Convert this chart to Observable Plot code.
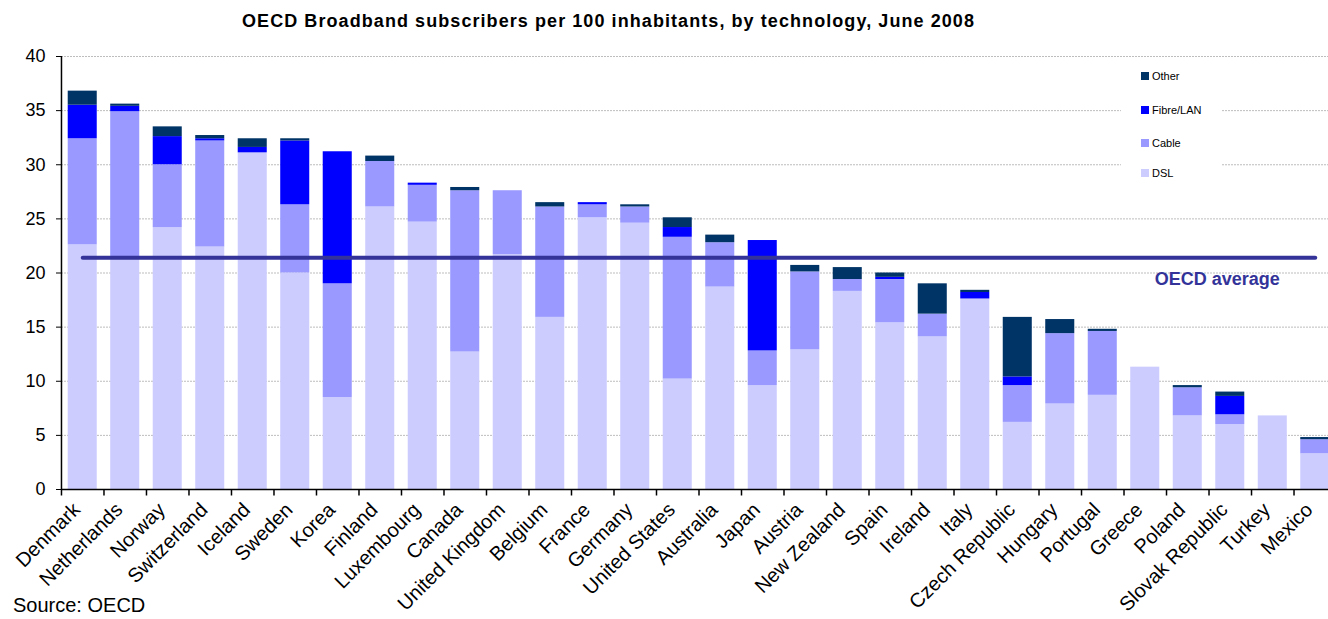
<!DOCTYPE html>
<html><head><meta charset="utf-8">
<script src="https://cdn.jsdelivr.net/npm/d3@7"></script>
<script src="https://cdn.jsdelivr.net/npm/@observablehq/plot@0.6"></script>
<style>
body{margin:0;background:#fff;font-family:Arial,"Liberation Sans",sans-serif;}
#wrap{position:relative;width:1328px;height:619px;overflow:hidden;background:#fff}
#chart{position:absolute;left:0;top:0}
#title{position:absolute;left:242px;top:11px;font-weight:bold;font-size:18px;white-space:nowrap;color:#000}
#source{position:absolute;left:13px;top:594px;font-size:20px;color:#000;white-space:nowrap}
#legend{position:absolute;left:1121px;top:60px;width:100px;height:130px;background:#fff;font-size:11px;color:#000}
.item{position:absolute;left:20px;height:8px;display:flex;align-items:center;white-space:nowrap}
.sw{width:8px;height:8px;margin-right:3px;flex:none}
</style></head><body>
<div id="wrap">
  <div id="chart"></div>
  <div id="title">OECD Broadband subscribers per 100 inhabitants, by technology, June 2008</div>
  <div id="legend"></div>
  <div id="source">Source: OECD</div>
</div>
<script>
const countries = ["Denmark","Netherlands","Norway","Switzerland","Iceland","Sweden","Korea","Finland","Luxembourg","Canada","United Kingdom","Belgium","France","Germany","United States","Australia","Japan","Austria","New Zealand","Spain","Ireland","Italy","Czech Republic","Hungary","Portugal","Greece","Poland","Slovak Republic","Turkey","Mexico"];
const dsl   = [22.6,21.5,24.2,22.4,31.1,20.0,8.5,26.1,24.7,12.7,21.7,15.9,25.1,24.6,10.2,18.7,9.6,12.9,18.3,15.4,14.1,17.6,6.2,7.9,8.7,11.3,6.8,6.0,6.8,3.3];
const cable = [9.8,13.4,5.8,9.8,0,6.3,10.5,4.2,3.4,14.9,5.9,10.2,1.2,1.5,13.1,4.1,3.2,7.2,1.1,4.0,2.1,0,3.4,6.5,5.9,0,2.6,0.9,0,1.3];
const fibre = [3.1,0.5,2.6,0.2,0.5,5.9,12.2,0,0.2,0,0,0,0.2,0,0.9,0,10.2,0,0,0.2,0,0.6,0.8,0,0,0,0,1.7,0,0];
const other = [1.3,0.2,0.9,0.3,0.8,0.2,0,0.5,0,0.3,0,0.4,0,0.2,0.9,0.7,0,0.6,1.1,0.4,2.8,0.2,5.5,1.3,0.2,0,0.2,0.4,0,0.2];
const techs = ["DSL","Cable","Fibre/LAN","Other"];
const techColors = ["#ccccff","#9999ff","#0000ff","#003366"];
const oecdAverage = 21.4;
const averageLabel = "OECD average";
const yTicks = [0,5,10,15,20,25,30,35,40];

const series = [dsl, cable, fibre, other];
const rows = [];
countries.forEach((c, i) => techs.forEach((t, k) => rows.push({country: c, tech: t, value: series[k][i]})));
const avgRows = [{country: countries[0], value: oecdAverage}, {country: countries[countries.length-1], value: oecdAverage}];

const W = 1328, H = 619, ML = 61, MR = -8, MT = 56, MB = 130;
const step = (W - ML - MR) / countries.length;
const font = "Arial, 'Liberation Sans', sans-serif";

const chart = Plot.plot({
  width: W, height: H,
  marginLeft: ML, marginRight: MR, marginTop: MT, marginBottom: MB,
  style: {fontFamily: font, background: "#fff", color: "#000", overflow: "visible"},
  x: {domain: countries, paddingInner: 0.317, paddingOuter: 0.158, round: false, axis: null},
  y: {domain: [0, 40], axis: null},
  color: {domain: techs, range: techColors},
  marks: [
    Plot.gridY(yTicks.filter(d => d > 0), {stroke: "#bdbdbd", strokeOpacity: 1, strokeDasharray: "2,1"}),
    Plot.barY(rows, {x: "country", y: "value", fill: "tech", order: techs}),
    Plot.line(avgRows, {x: "country", y: "value", stroke: "#333399", strokeWidth: 4}),
    Plot.text([averageLabel], {x: () => "Slovak Republic", y: () => oecdAverage, text: d => d, dy: 21, dx: -13, fontSize: 18, fontWeight: "bold", fill: "#333399", letterSpacing: "1.2px"}),
    Plot.ruleY([0], {stroke: "#000", strokeWidth: 1.5}),
    Plot.ruleX([countries[0]], {x: d => d, dx: -step/2, y1: 0, y2: 40, stroke: "#000", strokeWidth: 1.5}),
    Plot.ruleX(countries, {x: d => d, dx: -step/2, y1: 0, y2: -0.6, stroke: "#000", strokeWidth: 1.5}),
    Plot.axisY(yTicks, {tickSize: 5, tickPadding: 11, fontSize: 18, label: null, stroke: "#000"}),
    Plot.axisX({tickSize: 0, tickRotate: -45, tickPadding: 17, dx: -6, fontSize: 20, label: null})
  ]
});
document.getElementById("chart").appendChild(chart);

const legend = document.getElementById("legend");
const legendTops = {"Other": 12, "Fibre/LAN": 46, "Cable": 79, "DSL": 109};
["Other","Fibre/LAN","Cable","DSL"].forEach(t => {
  const it = document.createElement("div");
  it.className = "item";
  it.style.top = legendTops[t] + "px";
  const sw = document.createElement("div");
  sw.className = "sw";
  sw.style.background = techColors[techs.indexOf(t)];
  const lb = document.createElement("span");
  lb.textContent = t;
  it.appendChild(sw); it.appendChild(lb);
  legend.appendChild(it);
});
const title = document.getElementById("title");
const tw = title.getBoundingClientRect().width;
title.style.letterSpacing = ((733 - tw) / title.textContent.length) + "px";
</script>
</body></html>
